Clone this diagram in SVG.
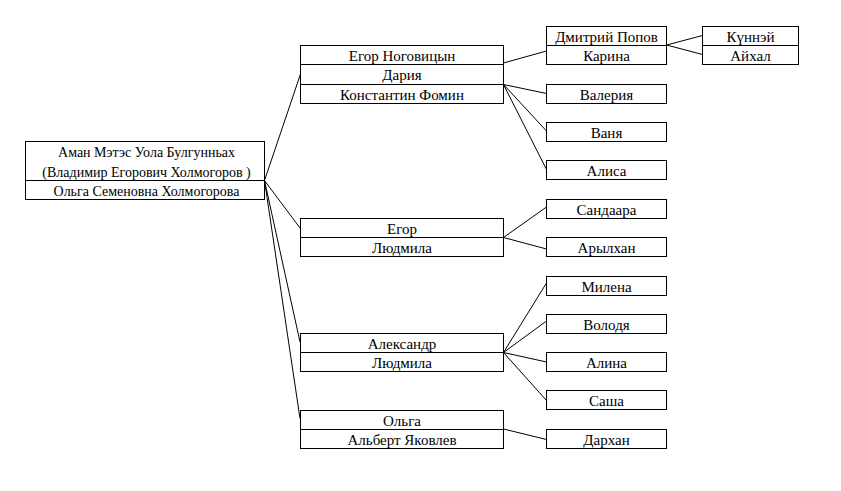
<svg xmlns="http://www.w3.org/2000/svg" width="841" height="491" viewBox="0 0 841 491">
<style>
rect{fill:#fff;stroke:#000;stroke-width:1}
.d{stroke:#000;stroke-width:1}
text{font-family:'Liberation Serif',serif;font-size:15px;fill:#000;text-anchor:middle}
#root text{font-size:14px}
#connectors line{stroke:#000;stroke-width:1}
</style>
<rect x="0" y="0" width="841" height="491" style="stroke:none"/>
<g id="connectors">
<line x1="264.5" y1="180.5" x2="300.5" y2="74"/>
<line x1="264.5" y1="180.5" x2="300" y2="228"/>
<line x1="264.5" y1="180.5" x2="300" y2="342"/>
<line x1="264.5" y1="180.5" x2="300" y2="418.5"/>
<line x1="503.5" y1="63" x2="546.5" y2="51"/>
<line x1="503.5" y1="84.5" x2="546.5" y2="93.5"/>
<line x1="503.5" y1="84.5" x2="546.5" y2="131"/>
<line x1="503.5" y1="84.5" x2="546.5" y2="169.5"/>
<line x1="666.5" y1="45" x2="702.5" y2="35.5"/>
<line x1="666.5" y1="45" x2="702.5" y2="54.5"/>
<line x1="503.5" y1="237.5" x2="546.5" y2="207"/>
<line x1="503.5" y1="237.5" x2="546.5" y2="249"/>
<line x1="503.5" y1="352.5" x2="546.5" y2="283"/>
<line x1="503.5" y1="352.5" x2="546.5" y2="321"/>
<line x1="503.5" y1="352.5" x2="546.5" y2="362"/>
<line x1="503.5" y1="352.5" x2="546.5" y2="400.5"/>
<line x1="503.5" y1="429" x2="546.5" y2="439.5"/>
</g>
<g id="root">
<rect x="25.5" y="141.5" width="239" height="58"/>
<line class="d" x1="25.5" y1="180.5" x2="264.5" y2="180.5"/>
<text x="146.5" y="156.5">Аман Мэтэс Уола Булгунньах</text>
<text x="146.5" y="176.5">(Владимир Егорович Холмогоров )</text>
<text x="146.5" y="195.5">Ольга Семеновна Холмогорова</text>
</g>
<g id="family1">
<rect x="300.5" y="45.5" width="203" height="58"/>
<line class="d" x1="300.5" y1="64.5" x2="503.5" y2="64.5"/>
<line class="d" x1="300.5" y1="84.5" x2="503.5" y2="84.5"/>
<text x="402" y="60.5">Егор Ноговицын</text>
<text x="402" y="80">Дария</text>
<text x="402" y="99.5">Константин Фомин</text>
</g>
<g id="family-dmitry">
<rect x="546.5" y="26.5" width="120" height="38"/>
<line class="d" x1="546.5" y1="45.5" x2="666.5" y2="45.5"/>
<text x="606.5" y="41.5">Дмитрий Попов</text>
<text x="606.5" y="60.5">Карина</text>
</g>
<g id="kids-karina">
<rect x="702.5" y="26.5" width="96" height="38"/>
<line class="d" x1="702.5" y1="45.5" x2="798.5" y2="45.5"/>
<text x="750.5" y="41.5">Күннэй</text>
<text x="750.5" y="60.5">Айхал</text>
</g>
<g id="valeria"><rect x="546.5" y="84.5" width="120" height="19"/><text x="606.5" y="99.5">Валерия</text></g>
<g id="vanya"><rect x="546.5" y="122.5" width="120" height="19"/><text x="606.5" y="137.5">Ваня</text></g>
<g id="alisa"><rect x="546.5" y="160.5" width="120" height="19"/><text x="606.5" y="175.5">Алиса</text></g>
<g id="family2">
<rect x="300.5" y="218.5" width="203" height="38"/>
<line class="d" x1="300.5" y1="237.5" x2="503.5" y2="237.5"/>
<text x="402" y="233.5">Егор</text>
<text x="402" y="252.5">Людмила</text>
</g>
<g id="sandaara"><rect x="546.5" y="199.5" width="120" height="19"/><text x="606.5" y="214.5">Сандаара</text></g>
<g id="arylkhan"><rect x="546.5" y="237.5" width="120" height="19"/><text x="606.5" y="252.5">Арылхан</text></g>
<g id="family3">
<rect x="300.5" y="333.5" width="203" height="38"/>
<line class="d" x1="300.5" y1="352.5" x2="503.5" y2="352.5"/>
<text x="402" y="348.5">Александр</text>
<text x="402" y="367.5">Людмила</text>
</g>
<g id="milena"><rect x="546.5" y="276.5" width="120" height="19"/><text x="606.5" y="291.5">Милена</text></g>
<g id="volodya"><rect x="546.5" y="314.5" width="120" height="19"/><text x="606.5" y="329.5">Володя</text></g>
<g id="alina"><rect x="546.5" y="352.5" width="120" height="19"/><text x="606.5" y="367.5">Алина</text></g>
<g id="sasha"><rect x="546.5" y="390.5" width="120" height="19"/><text x="606.5" y="405.5">Саша</text></g>
<g id="family4">
<rect x="300.5" y="410.5" width="203" height="38"/>
<line class="d" x1="300.5" y1="429.5" x2="503.5" y2="429.5"/>
<text x="402" y="425.5">Ольга</text>
<text x="402" y="444.5">Альберт Яковлев</text>
</g>
<g id="darkhan"><rect x="546.5" y="429.5" width="120" height="19"/><text x="606.5" y="444.5">Дархан</text></g>
</svg>
